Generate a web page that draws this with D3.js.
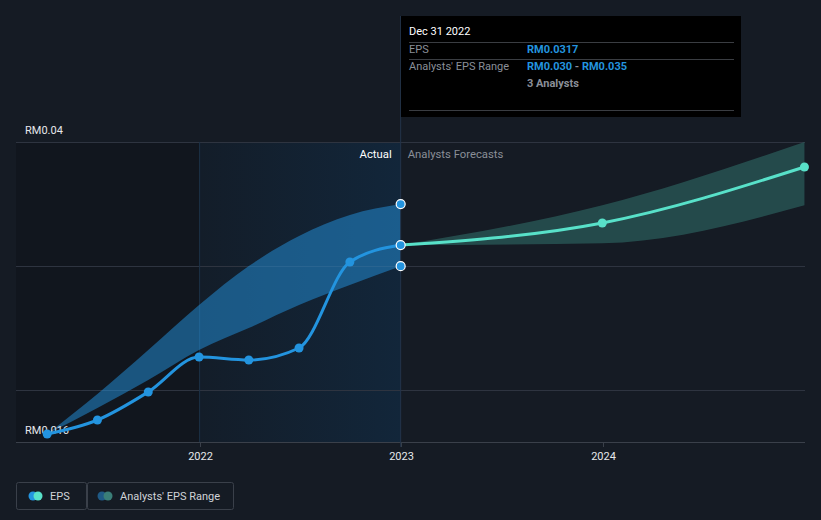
<!DOCTYPE html>
<html>
<head>
<meta charset="utf-8">
<script src="https://cdn.jsdelivr.net/npm/d3@7"></script>
<style>
  body { margin: 0; background: #151b24; }
  svg { display: block; font-family: Roboto, "Open Sans", sans-serif; }
</style>
</head>
<body>
<script>
// data
var pastDates = ['2021-03-31', '2021-06-30', '2021-09-30', '2021-12-31', '2022-03-31', '2022-06-30', '2022-09-30', '2022-12-31'];
var pastEps = [0.01648, 0.01761, 0.01987, 0.02268, 0.02244, 0.02341, 0.03034, 0.0317];
var pastLow = [0.01648, 0.01858, 0.02083, 0.02325, 0.02502, 0.02687, 0.02848, 0.0300];
var pastHigh = [0.01648, 0.01970, 0.02325, 0.02687, 0.03001, 0.03243, 0.03412, 0.0350];

var foreDates = ['2022-12-31', '2023-12-31', '2024-12-31'];
var foreEps = [0.0317, 0.03348, 0.03799];
var foreLow = [0.0317, 0.03185, 0.0349];
var foreHigh = [0.0317, 0.0349, 0.0400];

var yTicks = [0.02, 0.03, 0.04];
var xTicks = ['2022', '2023', '2024'];

var W = 821, H = 520;
var parse = d3.timeParse('%Y-%m-%d');

var svg = d3.select('body').append('svg')
  .attr('width', W)
  .attr('height', H);

var x = d3.scaleTime()
  .domain([parse('2021-01-01'), parse('2025-01-01')])
  .range([-2, 805]);

var y = d3.scaleLinear()
  .domain([0.016, 0.04])
  .range([440, 142]);

var plotTop = 142, plotBottom = 442;
var nowX = x(parse('2022-12-31'));
var x2022 = x(parse('2022-01-01'));

// background
svg.append('rect').attr('width', W).attr('height', H).attr('fill', '#151b24');
svg.append('rect')
  .attr('x', 16).attr('y', plotTop)
  .attr('width', x2022 - 16).attr('height', plotBottom - plotTop)
  .attr('fill', '#11161e');

var defs = svg.append('defs');
var grad = defs.append('linearGradient').attr('id', 'pastGrad');
grad.append('stop').attr('offset', '0%').attr('stop-color', '#131d29');
grad.append('stop').attr('offset', '100%').attr('stop-color', '#12263a');

svg.append('rect')
  .attr('x', x2022).attr('y', plotTop)
  .attr('width', nowX - x2022).attr('height', plotBottom - plotTop)
  .attr('fill', 'url(#pastGrad)');

// gridlines
svg.selectAll('.grid')
  .data(yTicks)
  .enter().append('line')
  .attr('x1', 16).attr('x2', 805)
  .attr('y1', function(d){ return Math.round(y(d)) + 0.5; })
  .attr('y2', function(d){ return Math.round(y(d)) + 0.5; })
  .attr('stroke', '#2e3440')
  .attr('stroke-width', 1);

// bottom axis
svg.append('line')
  .attr('x1', 16).attr('x2', 805)
  .attr('y1', plotBottom + 0.5).attr('y2', plotBottom + 0.5)
  .attr('stroke', '#3a404a');

svg.append('line')
  .attr('x1', x2022).attr('x2', x2022)
  .attr('y1', plotTop).attr('y2', plotBottom)
  .attr('stroke', '#1c3247');

svg.selectAll('.xtick')
  .data(xTicks)
  .enter().append('g')
  .each(function(d){
    var xx = Math.round(x(parse(d + '-01-01'))) + 0.5;
    var g = d3.select(this);
    g.append('line')
      .attr('x1', xx).attr('x2', xx)
      .attr('y1', plotBottom).attr('y2', plotBottom + 5)
      .attr('stroke', '#3a404a');
    g.append('text')
      .attr('x', xx).attr('y', 460)
      .attr('text-anchor', 'middle')
      .attr('fill', '#e6e8eb')
      .attr('font-size', 11)
      .text(d);
  });

// y labels
svg.append('text').attr('x', 25).attr('y', 134)
  .attr('fill', '#e6e8eb').attr('font-size', 11).text('RM0.04');

// bands
var area = d3.area()
  .x(function(d){ return x(d.date); })
  .y0(function(d){ return y(d.low); })
  .y1(function(d){ return y(d.high); })
  .curve(d3.curveMonotoneX);

var pastBand = pastDates.map(function(d, i){ return {date: parse(d), low: pastLow[i], high: pastHigh[i]}; });
var foreBand = foreDates.map(function(d, i){ return {date: parse(d), low: foreLow[i], high: foreHigh[i]}; });

svg.append('path').datum(pastBand)
  .attr('d', area)
  .attr('fill', '#2394df').attr('fill-opacity', 0.5);

svg.append('path').datum(foreBand)
  .attr('d', area)
  .attr('fill', '#2f6a66').attr('fill-opacity', 0.6);

// now line
svg.append('line')
  .attr('x1', nowX).attr('x2', nowX)
  .attr('y1', 16).attr('y2', plotBottom + 5)
  .attr('stroke', '#23344a');

svg.append('text').attr('x', nowX - 9).attr('y', 158)
  .attr('text-anchor', 'end').attr('fill', '#ffffff').attr('font-size', 11.3).text('Actual');
svg.append('text').attr('x', nowX + 7).attr('y', 158)
  .attr('fill', '#8a8f98').attr('font-size', 11.3).text('Analysts Forecasts');

svg.append('text').attr('x', 25).attr('y', 434)
  .attr('fill', '#e6e8eb').attr('font-size', 11).text('RM0.016');

// lines
var line = d3.line()
  .x(function(d){ return x(d.date); })
  .y(function(d){ return y(d.v); })
  .curve(d3.curveMonotoneX);

var past = pastDates.map(function(d, i){ return {date: parse(d), v: pastEps[i]}; });
var fore = foreDates.map(function(d, i){ return {date: parse(d), v: foreEps[i]}; });

svg.append('path').datum(fore)
  .attr('d', line)
  .attr('fill', 'none').attr('stroke', '#58e1c9').attr('stroke-width', 3);

svg.append('path').datum(past)
  .attr('d', line)
  .attr('fill', 'none').attr('stroke', '#2394df').attr('stroke-width', 3);

svg.selectAll('.fdot')
  .data(fore.slice(1))
  .enter().append('circle')
  .attr('cx', function(d){ return x(d.date); })
  .attr('cy', function(d){ return y(d.v); })
  .attr('r', 4.5)
  .attr('fill', '#58e1c9');

svg.selectAll('.pdot')
  .data(past.slice(0, -1))
  .enter().append('circle')
  .attr('cx', function(d){ return x(d.date); })
  .attr('cy', function(d){ return y(d.v); })
  .attr('r', 4.5)
  .attr('fill', '#2394df');

// highlighted points at Dec 31 2022
var last = pastDates.length - 1;
svg.selectAll('.hdot')
  .data([pastHigh[last], pastEps[last], pastLow[last]])
  .enter().append('circle')
  .attr('cx', nowX)
  .attr('cy', function(d){ return y(d); })
  .attr('r', 4.5)
  .attr('fill', '#2394df')
  .attr('stroke', '#ffffff')
  .attr('stroke-width', 1.2);

// tooltip
var tip = svg.append('g').attr('transform', 'translate(401,16)');
tip.append('rect').attr('width', 340).attr('height', 101).attr('fill', '#000000');
tip.append('text').attr('x', 8).attr('y', 19).attr('fill', '#ffffff').attr('font-size', 11).text('Dec 31 2022');
[26, 43, 94].forEach(function(yy){
  tip.append('line').attr('x1', 8).attr('x2', 333).attr('y1', yy + 0.5).attr('y2', yy + 0.5).attr('stroke', '#3a3d42');
});
tip.append('text').attr('x', 8).attr('y', 37).attr('fill', '#8a8f98').attr('font-size', 11).text('EPS');
tip.append('text').attr('x', 126).attr('y', 37).attr('fill', '#2394df').attr('font-size', 11).attr('font-weight', 'bold').text('RM' + pastEps[last]);
tip.append('text').attr('x', 8).attr('y', 54).attr('fill', '#8a8f98').attr('font-size', 11).text("Analysts' EPS Range");
tip.append('text').attr('x', 126).attr('y', 54).attr('font-size', 11).attr('font-weight', 'bold')
  .call(function(t){
    t.append('tspan').attr('fill', '#2394df').text('RM' + pastLow[last].toFixed(3));
    t.append('tspan').attr('fill', '#8a8f98').text(' - ');
    t.append('tspan').attr('fill', '#2394df').text('RM' + pastHigh[last].toFixed(3));
  });
tip.append('text').attr('x', 126).attr('y', 71).attr('fill', '#8a8f98').attr('font-size', 11).attr('font-weight', 'bold').text('3 Analysts');

// legend
var leg = svg.append('g');
leg.append('rect').attr('x', 16.5).attr('y', 482.5).attr('width', 70).attr('height', 27).attr('rx', 2)
  .attr('fill', 'none').attr('stroke', '#3a404a');
leg.append('circle').attr('cx', 33).attr('cy', 496).attr('r', 4.5).attr('fill', '#2394df');
leg.append('circle').attr('cx', 38).attr('cy', 496).attr('r', 4.5).attr('fill', '#58e1c9');
leg.append('text').attr('x', 50).attr('y', 500).attr('fill', '#d0d3d8').attr('font-size', 11).text('EPS');

leg.append('rect').attr('x', 87.5).attr('y', 482.5).attr('width', 146).attr('height', 27).attr('rx', 2)
  .attr('fill', 'none').attr('stroke', '#3a404a');
leg.append('circle').attr('cx', 102).attr('cy', 496).attr('r', 4.5).attr('fill', '#1f5a86');
leg.append('circle').attr('cx', 108).attr('cy', 496).attr('r', 4.5).attr('fill', '#3a7e78');
leg.append('text').attr('x', 120).attr('y', 500).attr('fill', '#d0d3d8').attr('font-size', 11).text("Analysts' EPS Range");
</script>
</body>
</html>
